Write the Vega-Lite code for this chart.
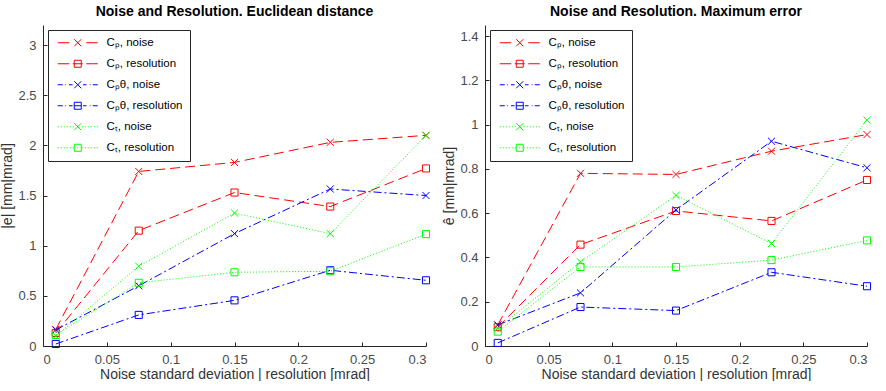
{
  "$schema": "https://vega.github.io/schema/vega-lite/v6.json",
  "padding": {"left": 0, "top": 5, "right": 0, "bottom": 0},
  "bounds": "flush",
  "spacing": 59,
  "background": "white",
  "config": {
    "font": "Liberation Sans",
    "view": {"stroke": null},
    "axis": {
      "grid": false,
      "domainColor": "#262626",
      "tickColor": "#262626",
      "labelColor": "#4a4a4a",
      "titleColor": "#333333",
      "labelFontSize": 13,
      "titleFontSize": 14,
      "titleFontWeight": "normal",
      "labelFont": "Liberation Sans",
      "titleFont": "Liberation Sans",
      "tickSize": -4,
      "titlePadding": 3
    },
    "axisX": {"labelPadding": 11, "titlePadding": 1},
    "axisY": {"labelPadding": 11},
    "title": {"fontSize": 14, "fontWeight": "bold", "font": "Liberation Sans", "color": "#000000", "offset": 6},
    "legend": {
      "orient": "top-left",
      "offset": 5,
      "padding": 7,
      "strokeColor": "#262626",
      "fillColor": "white",
      "labelFontSize": 11.5,
      "labelFont": "Liberation Sans",
      "labelColor": "#000000",
      "symbolSize": 100,
      "symbolOffset": 17,
      "labelOffset": 23,
      "rowPadding": 8,
      "title": null
    }
  },
  "datasets": {
    "euclid": [
      {"series": "Cₚ, noise", "family": "P", "kind": "noise", "x": 0.01, "y": 0.165},
      {"series": "Cₚ, noise", "family": "P", "kind": "noise", "x": 0.075, "y": 1.74},
      {"series": "Cₚ, noise", "family": "P", "kind": "noise", "x": 0.15, "y": 1.83},
      {"series": "Cₚ, noise", "family": "P", "kind": "noise", "x": 0.225, "y": 2.03},
      {"series": "Cₚ, noise", "family": "P", "kind": "noise", "x": 0.3, "y": 2.1},
      {"series": "Cₚ, resolution", "family": "P", "kind": "resolution", "x": 0.01, "y": 0.13},
      {"series": "Cₚ, resolution", "family": "P", "kind": "resolution", "x": 0.075, "y": 1.15},
      {"series": "Cₚ, resolution", "family": "P", "kind": "resolution", "x": 0.15, "y": 1.53},
      {"series": "Cₚ, resolution", "family": "P", "kind": "resolution", "x": 0.225, "y": 1.39},
      {"series": "Cₚ, resolution", "family": "P", "kind": "resolution", "x": 0.3, "y": 1.77},
      {"series": "Cₚθ, noise", "family": "Pθ", "kind": "noise", "x": 0.01, "y": 0.16},
      {"series": "Cₚθ, noise", "family": "Pθ", "kind": "noise", "x": 0.075, "y": 0.6},
      {"series": "Cₚθ, noise", "family": "Pθ", "kind": "noise", "x": 0.15, "y": 1.12},
      {"series": "Cₚθ, noise", "family": "Pθ", "kind": "noise", "x": 0.225, "y": 1.565},
      {"series": "Cₚθ, noise", "family": "Pθ", "kind": "noise", "x": 0.3, "y": 1.5},
      {"series": "Cₚθ, resolution", "family": "Pθ", "kind": "resolution", "x": 0.01, "y": 0.02},
      {"series": "Cₚθ, resolution", "family": "Pθ", "kind": "resolution", "x": 0.075, "y": 0.31},
      {"series": "Cₚθ, resolution", "family": "Pθ", "kind": "resolution", "x": 0.15, "y": 0.455},
      {"series": "Cₚθ, resolution", "family": "Pθ", "kind": "resolution", "x": 0.225, "y": 0.755},
      {"series": "Cₚθ, resolution", "family": "Pθ", "kind": "resolution", "x": 0.3, "y": 0.655},
      {"series": "Cₜ, noise", "family": "T", "kind": "noise", "x": 0.01, "y": 0.1},
      {"series": "Cₜ, noise", "family": "T", "kind": "noise", "x": 0.075, "y": 0.795},
      {"series": "Cₜ, noise", "family": "T", "kind": "noise", "x": 0.15, "y": 1.325},
      {"series": "Cₜ, noise", "family": "T", "kind": "noise", "x": 0.225, "y": 1.12},
      {"series": "Cₜ, noise", "family": "T", "kind": "noise", "x": 0.3, "y": 2.1},
      {"series": "Cₜ, resolution", "family": "T", "kind": "resolution", "x": 0.01, "y": 0.11},
      {"series": "Cₜ, resolution", "family": "T", "kind": "resolution", "x": 0.075, "y": 0.63},
      {"series": "Cₜ, resolution", "family": "T", "kind": "resolution", "x": 0.15, "y": 0.735},
      {"series": "Cₜ, resolution", "family": "T", "kind": "resolution", "x": 0.225, "y": 0.745},
      {"series": "Cₜ, resolution", "family": "T", "kind": "resolution", "x": 0.3, "y": 1.115}
    ],
    "maxerr": [
      {"series": "Cₚ, noise", "family": "P", "kind": "noise", "x": 0.01, "y": 0.095},
      {"series": "Cₚ, noise", "family": "P", "kind": "noise", "x": 0.075, "y": 0.78},
      {"series": "Cₚ, noise", "family": "P", "kind": "noise", "x": 0.15, "y": 0.775},
      {"series": "Cₚ, noise", "family": "P", "kind": "noise", "x": 0.225, "y": 0.88},
      {"series": "Cₚ, noise", "family": "P", "kind": "noise", "x": 0.3, "y": 0.955},
      {"series": "Cₚ, resolution", "family": "P", "kind": "resolution", "x": 0.01, "y": 0.085},
      {"series": "Cₚ, resolution", "family": "P", "kind": "resolution", "x": 0.075, "y": 0.458},
      {"series": "Cₚ, resolution", "family": "P", "kind": "resolution", "x": 0.15, "y": 0.61},
      {"series": "Cₚ, resolution", "family": "P", "kind": "resolution", "x": 0.225, "y": 0.565},
      {"series": "Cₚ, resolution", "family": "P", "kind": "resolution", "x": 0.3, "y": 0.75},
      {"series": "Cₚθ, noise", "family": "Pθ", "kind": "noise", "x": 0.01, "y": 0.095},
      {"series": "Cₚθ, noise", "family": "Pθ", "kind": "noise", "x": 0.075, "y": 0.24},
      {"series": "Cₚθ, noise", "family": "Pθ", "kind": "noise", "x": 0.15, "y": 0.615},
      {"series": "Cₚθ, noise", "family": "Pθ", "kind": "noise", "x": 0.225, "y": 0.925},
      {"series": "Cₚθ, noise", "family": "Pθ", "kind": "noise", "x": 0.3, "y": 0.805},
      {"series": "Cₚθ, resolution", "family": "Pθ", "kind": "resolution", "x": 0.01, "y": 0.014},
      {"series": "Cₚθ, resolution", "family": "Pθ", "kind": "resolution", "x": 0.075, "y": 0.176},
      {"series": "Cₚθ, resolution", "family": "Pθ", "kind": "resolution", "x": 0.15, "y": 0.16},
      {"series": "Cₚθ, resolution", "family": "Pθ", "kind": "resolution", "x": 0.225, "y": 0.333},
      {"series": "Cₚθ, resolution", "family": "Pθ", "kind": "resolution", "x": 0.3, "y": 0.27},
      {"series": "Cₜ, noise", "family": "T", "kind": "noise", "x": 0.01, "y": 0.08},
      {"series": "Cₜ, noise", "family": "T", "kind": "noise", "x": 0.075, "y": 0.38},
      {"series": "Cₜ, noise", "family": "T", "kind": "noise", "x": 0.15, "y": 0.68},
      {"series": "Cₜ, noise", "family": "T", "kind": "noise", "x": 0.225, "y": 0.463},
      {"series": "Cₜ, noise", "family": "T", "kind": "noise", "x": 0.3, "y": 1.02},
      {"series": "Cₜ, resolution", "family": "T", "kind": "resolution", "x": 0.01, "y": 0.065},
      {"series": "Cₜ, resolution", "family": "T", "kind": "resolution", "x": 0.075, "y": 0.357},
      {"series": "Cₜ, resolution", "family": "T", "kind": "resolution", "x": 0.15, "y": 0.357},
      {"series": "Cₜ, resolution", "family": "T", "kind": "resolution", "x": 0.225, "y": 0.388},
      {"series": "Cₜ, resolution", "family": "T", "kind": "resolution", "x": 0.3, "y": 0.477}
    ]
  },
  "resolve": {
    "scale": {"color": "independent", "strokeDash": "independent", "shape": "independent", "x": "independent", "y": "independent"},
    "legend": {"color": "independent"}
  },
  "hconcat": [
    {
      "width": 383,
      "height": 321,
      "title": "Noise and Resolution. Euclidean distance",
      "data": {"name": "euclid"},
      "layer": [
        {
          "mark": {"type": "line", "strokeWidth": 1},
          "encoding": {
            "x": {"field": "x", "type": "quantitative", "scale": {"domain": [0, 0.3], "nice": false}, "axis": {"values": [0, 0.05, 0.1, 0.15, 0.2, 0.25, 0.3], "format": "~g", "title": "Noise standard deviation | resolution [mrad]"}},
            "y": {"field": "y", "type": "quantitative", "scale": {"domain": [0, 3.2], "nice": false}, "axis": {"values": [0, 0.5, 1, 1.5, 2, 2.5, 3], "format": "~g", "title": "|e| [mm|mrad]"}},
            "color": {
              "field": "series", "type": "nominal",
              "scale": {"domain": ["Cₚ, noise", "Cₚ, resolution", "Cₚθ, noise", "Cₚθ, resolution", "Cₜ, noise", "Cₜ, resolution"], "range": ["#ff0000", "#ff0000", "#0000ff", "#0000ff", "#00ff00", "#00ff00"]},
              "legend": {
                "encode": {
                  "symbols": {
                    "update": {
                      "shape": {"signal": "indexof(datum.value,'θ')>=0 ? (indexof(datum.value,'noise')>=0 ? 'M-4,0H-3M-2.56,0H-2.4M-1.76,0H-1.04M1.04,0H1.76M2.4,0H2.56M3,0H4M-0.7,-0.7L0.7,0.7M-0.7,0.7L0.7,-0.7' : 'M-4,0H-3M-2.56,0H-2.4M-1.76,0H-1.04M-0.7,0H0.7M1.04,0H1.76M2.4,0H2.56M3,0H4M-0.7,-0.7H0.7V0.7H-0.7Z') : indexof(datum.value,'ₜ')>=0 ? (indexof(datum.value,'noise')>=0 ? 'M-4,0h0.2M-3.4,0h0.2M-2.8,0h0.2M-2.2,0h0.2M-1.6,0h0.2M-1,0h0.2M0.8,0h0.2M1.4,0h0.2M2,0h0.2M2.6,0h0.2M3.2,0h0.2M3.8,0h0.2M-0.7,-0.7L0.7,0.7M-0.7,0.7L0.7,-0.7' : 'M-4,0h0.2M-3.4,0h0.2M-2.8,0h0.2M-2.2,0h0.2M-1.6,0h0.2M-1,0h0.2M-0.1,0h0.2M0.8,0h0.2M1.4,0h0.2M2,0h0.2M2.6,0h0.2M3.2,0h0.2M3.8,0h0.2M-0.7,-0.7H0.7V0.7H-0.7Z') : (indexof(datum.value,'noise')>=0 ? 'M-4,0H-1.7M1.7,0H4M-0.7,-0.7L0.7,0.7M-0.7,0.7L0.7,-0.7' : 'M-4,0H-1.7M-1,0H1M1.7,0H4M-0.7,-0.7H0.7V0.7H-0.7Z')"},
                      "stroke": {"signal": "indexof(datum.value,'θ')>=0 ? '#0000ff' : indexof(datum.value,'ₜ')>=0 ? '#00ff00' : '#ff0000'"},
                      "fill": {"value": "transparent"},
                      "strokeWidth": {"value": 1},
                      "opacity": {"value": 1}
                    }
                  }
                }
              }
            },
            "strokeDash": {
              "field": "family", "type": "nominal", "legend": null,
              "scale": {"domain": ["P", "Pθ", "T"], "range": [[10, 5], [8, 3, 2, 3], [1, 2]]}
            }
          }
        },
        {
          "mark": {"type": "point", "filled": false, "size": 50, "strokeWidth": 1, "opacity": 1},
          "encoding": {
            "x": {"field": "x", "type": "quantitative"},
            "y": {"field": "y", "type": "quantitative"},
            "color": {"field": "series", "type": "nominal", "legend": null},
            "shape": {
              "field": "kind", "type": "nominal", "legend": null,
              "scale": {"domain": ["noise", "resolution"], "range": ["M-1,-1L1,1M-1,1L1,-1", "square"]}
            }
          }
        }
      ]
    },
    {
      "width": 382,
      "height": 321,
      "title": "Noise and Resolution. Maximum error",
      "data": {"name": "maxerr"},
      "layer": [
        {
          "mark": {"type": "line", "strokeWidth": 1},
          "encoding": {
            "x": {"field": "x", "type": "quantitative", "scale": {"domain": [0, 0.3], "nice": false}, "axis": {"values": [0, 0.05, 0.1, 0.15, 0.2, 0.25, 0.3], "format": "~g", "title": "Noise standard deviation | resolution [mrad]"}},
            "y": {"field": "y", "type": "quantitative", "scale": {"domain": [0, 1.45], "nice": false}, "axis": {"values": [0, 0.2, 0.4, 0.6, 0.8, 1, 1.2, 1.4], "format": "~g", "title": "ê [mm|mrad]"}},
            "color": {
              "field": "series", "type": "nominal",
              "scale": {"domain": ["Cₚ, noise", "Cₚ, resolution", "Cₚθ, noise", "Cₚθ, resolution", "Cₜ, noise", "Cₜ, resolution"], "range": ["#ff0000", "#ff0000", "#0000ff", "#0000ff", "#00ff00", "#00ff00"]},
              "legend": {
                "encode": {
                  "symbols": {
                    "update": {
                      "shape": {"signal": "indexof(datum.value,'θ')>=0 ? (indexof(datum.value,'noise')>=0 ? 'M-4,0H-3M-2.56,0H-2.4M-1.76,0H-1.04M1.04,0H1.76M2.4,0H2.56M3,0H4M-0.7,-0.7L0.7,0.7M-0.7,0.7L0.7,-0.7' : 'M-4,0H-3M-2.56,0H-2.4M-1.76,0H-1.04M-0.7,0H0.7M1.04,0H1.76M2.4,0H2.56M3,0H4M-0.7,-0.7H0.7V0.7H-0.7Z') : indexof(datum.value,'ₜ')>=0 ? (indexof(datum.value,'noise')>=0 ? 'M-4,0h0.2M-3.4,0h0.2M-2.8,0h0.2M-2.2,0h0.2M-1.6,0h0.2M-1,0h0.2M0.8,0h0.2M1.4,0h0.2M2,0h0.2M2.6,0h0.2M3.2,0h0.2M3.8,0h0.2M-0.7,-0.7L0.7,0.7M-0.7,0.7L0.7,-0.7' : 'M-4,0h0.2M-3.4,0h0.2M-2.8,0h0.2M-2.2,0h0.2M-1.6,0h0.2M-1,0h0.2M-0.1,0h0.2M0.8,0h0.2M1.4,0h0.2M2,0h0.2M2.6,0h0.2M3.2,0h0.2M3.8,0h0.2M-0.7,-0.7H0.7V0.7H-0.7Z') : (indexof(datum.value,'noise')>=0 ? 'M-4,0H-1.7M1.7,0H4M-0.7,-0.7L0.7,0.7M-0.7,0.7L0.7,-0.7' : 'M-4,0H-1.7M-1,0H1M1.7,0H4M-0.7,-0.7H0.7V0.7H-0.7Z')"},
                      "stroke": {"signal": "indexof(datum.value,'θ')>=0 ? '#0000ff' : indexof(datum.value,'ₜ')>=0 ? '#00ff00' : '#ff0000'"},
                      "fill": {"value": "transparent"},
                      "strokeWidth": {"value": 1},
                      "opacity": {"value": 1}
                    }
                  }
                }
              }
            },
            "strokeDash": {
              "field": "family", "type": "nominal", "legend": null,
              "scale": {"domain": ["P", "Pθ", "T"], "range": [[10, 5], [8, 3, 2, 3], [1, 2]]}
            }
          }
        },
        {
          "mark": {"type": "point", "filled": false, "size": 50, "strokeWidth": 1, "opacity": 1},
          "encoding": {
            "x": {"field": "x", "type": "quantitative"},
            "y": {"field": "y", "type": "quantitative"},
            "color": {"field": "series", "type": "nominal", "legend": null},
            "shape": {
              "field": "kind", "type": "nominal", "legend": null,
              "scale": {"domain": ["noise", "resolution"], "range": ["M-1,-1L1,1M-1,1L1,-1", "square"]}
            }
          }
        }
      ]
    }
  ]
}
